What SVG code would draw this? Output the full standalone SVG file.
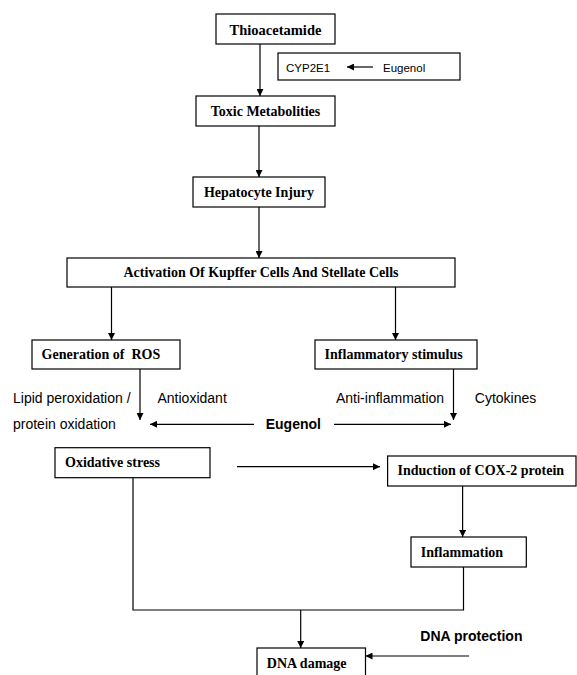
<svg xmlns="http://www.w3.org/2000/svg" width="577" height="675" viewBox="0 0 577 675">
<defs>
<marker id="ah" viewBox="0 0 8 8" refX="8" refY="4" markerWidth="7" markerHeight="7" orient="auto" markerUnits="userSpaceOnUse">
<path d="M0,0 L8,4 L0,8 z" fill="#000"/>
</marker>
<style>
.box{fill:#fff;stroke:#000;stroke-width:1.2}
.t{font-family:"Liberation Serif","Times New Roman",serif;font-weight:bold;font-size:14px;fill:#000;white-space:pre}
.s{font-family:"Liberation Sans",Arial,sans-serif;font-size:14px;fill:#000}
.sb{font-family:"Liberation Sans",Arial,sans-serif;font-size:14px;font-weight:bold;fill:#000}
.c{font-family:"Liberation Sans",Arial,sans-serif;font-size:11.5px;fill:#000}
.ln{fill:none;stroke:#000;stroke-width:1.2}
.ar{fill:none;stroke:#000;stroke-width:1.2;marker-end:url(#ah)}
</style>
</defs>
<rect width="577" height="675" fill="#fff"/>

<g id="connectors">
<line class="ar" x1="260" y1="44" x2="260" y2="96"/>
<line class="ar" x1="259" y1="126" x2="259" y2="177"/>
<line class="ar" x1="259" y1="207" x2="259" y2="258"/>
<line class="ar" x1="111.5" y1="287" x2="111.5" y2="340"/>
<line class="ar" x1="395.5" y1="287" x2="395.5" y2="340"/>
<line class="ar" x1="140" y1="369" x2="140" y2="420"/>
<line class="ar" x1="453.5" y1="369" x2="453.5" y2="420"/>
<line class="ar" x1="254" y1="424.3" x2="150" y2="424.3"/>
<line class="ar" x1="334" y1="424.3" x2="451" y2="424.3"/>
<line class="ar" x1="237" y1="466.7" x2="380" y2="466.7"/>
<line class="ar" x1="462.6" y1="486" x2="462.6" y2="537"/>
<polyline class="ln" points="133,477.7 133,610 463.5,610 463.5,567"/>
<line class="ar" x1="300.7" y1="610" x2="300.7" y2="648"/>
<line class="ar" x1="469" y1="656" x2="365.5" y2="656"/>
</g>

<g id="thioacetamide">
<rect class="box" x="216" y="14" width="119" height="30"/>
<text class="t" x="275.5" y="35" text-anchor="middle" style="font-size:14.5px">Thioacetamide</text>
</g>

<g id="cyp2e1">
<rect class="box" x="278" y="53" width="182" height="27"/>
<text class="c" x="286" y="71.5">CYP2E1</text>
<line class="ar" x1="373" y1="67" x2="347" y2="67"/>
<text class="c" x="383" y="71.5">Eugenol</text>
</g>

<g id="toxic">
<rect class="box" x="196" y="96" width="139" height="30"/>
<text class="t" x="265.5" y="116" text-anchor="middle">Toxic Metabolities</text>
</g>

<g id="hepatocyte">
<rect class="box" x="193" y="177" width="132" height="30"/>
<text class="t" x="259" y="197" text-anchor="middle">Hepatocyte Injury</text>
</g>

<g id="activation">
<rect class="box" x="67" y="258" width="388" height="29"/>
<text class="t" x="261" y="277" text-anchor="middle">Activation Of Kupffer Cells And Stellate Cells</text>
</g>

<g id="ros">
<rect class="box" x="32" y="340" width="148" height="29"/>
<text class="t" x="41.6" y="359" xml:space="preserve">Generation of  ROS</text>
</g>

<g id="inflammatory">
<rect class="box" x="315" y="340" width="162" height="29"/>
<text class="t" x="324.6" y="359">Inflammatory stimulus</text>
</g>

<g id="labels">
<text class="s" x="13" y="403.3">Lipid peroxidation /</text>
<text class="s" x="13" y="429.3">protein oxidation</text>
<text class="s" x="157.5" y="403.3">Antioxidant</text>
<text class="s" x="336" y="403.3">Anti-inflammation</text>
<text class="s" x="474.8" y="403.3">Cytokines</text>
</g>

<g id="eugenol">
<text class="sb" x="265.7" y="429.3">Eugenol</text>
</g>

<g id="oxidative">
<rect class="box" x="55" y="447.7" width="155" height="30"/>
<text class="t" x="65" y="466.7">Oxidative stress</text>
</g>

<g id="cox2">
<rect class="box" x="387.6" y="456" width="188.4" height="30"/>
<text class="t" x="397.5" y="475">Induction of COX-2 protein</text>
</g>

<g id="inflammation">
<rect class="box" x="411" y="537" width="115.3" height="30"/>
<text class="t" x="420.7" y="556.7">Inflammation</text>
</g>

<g id="dnaprotection">
<text class="sb" x="420.3" y="640.7">DNA protection</text>
</g>

<g id="dnadamage">
<rect class="box" x="257" y="648" width="108.5" height="40"/>
<text class="t" x="266.8" y="668">DNA damage</text>
</g>
</svg>
